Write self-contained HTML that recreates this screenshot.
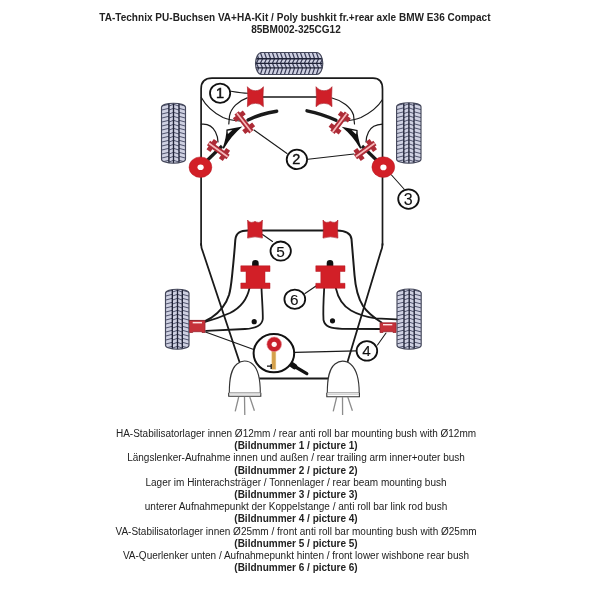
<!DOCTYPE html>
<html><head><meta charset="utf-8">
<style>
html,body{margin:0;padding:0;background:#fff;width:600px;height:600px;overflow:hidden;}
body{position:relative;font-family:"Liberation Sans",sans-serif;color:#222;}
.t{position:absolute;left:0;width:592px;will-change:transform;text-align:center;font-size:10px;line-height:12.2px;white-space:nowrap;}
.b{font-weight:bold;}
svg{position:absolute;left:0;top:0;will-change:transform;}
</style></head><body>
<div class="t b" style="top:12px"><span style="letter-spacing:0.03px;position:relative;left:-1.1px">TA-Technix PU-Buchsen VA+HA-Kit / Poly bushkit fr.+rear axle BMW E36 Compact</span><br>85BM002-325CG12</div>
<div class="t" style="top:428.3px">HA-Stabilisatorlager innen Ø12mm / rear anti roll bar mounting bush with Ø12mm<br>
<span class="b">(Bildnummer 1 / picture 1)</span><br>
Längslenker-Aufnahme innen und außen / rear trailing arm inner+outer bush<br>
<span class="b">(Bildnummer 2 / picture 2)</span><br>
Lager im Hinterachsträger / Tonnenlager / rear beam mounting bush<br>
<span class="b">(Bildnummer 3 / picture 3)</span><br>
unterer Aufnahmepunkt der Koppelstange / anti roll bar link rod bush<br>
<span class="b">(Bildnummer 4 / picture 4)</span><br>
VA-Stabilisatorlager innen Ø25mm / front anti roll bar mounting bush with Ø25mm<br>
<span class="b">(Bildnummer 5 / picture 5)</span><br>
VA-Querlenker unten / Aufnahmepunkt hinten / front lower wishbone rear bush<br>
<span class="b">(Bildnummer 6 / picture 6)</span></div>
<svg width="600" height="600" viewBox="0 0 600 600">
<defs>
<g id="ib">
<path d="M-12,-2.7 H12 V2.7 H-12 Z M-10,-6.3 H-5.2 V6.3 H-10 Z M5.2,-6.3 H10 V6.3 H5.2 Z" fill="#ad2b36"/>
<path d="M-11.6,0 H11.6" stroke="#f7b9bb" stroke-width="1.7"/>
</g>
</defs>
<clipPath id="c25552"><rect x="255.5" y="52.5" width="67.30000000000001" height="22.0" rx="6" ry="11"/></clipPath>
<rect x="255.5" y="52.5" width="67.30000000000001" height="22.0" rx="6" ry="11" fill="#cfd1e2"/>
<g clip-path="url(#c25552)">
<path d="M256.4,52.5 L258.6,58.7 M258.6,58.7 L256.4,63.3 M256.4,63.3 L258.6,67.9 M258.6,67.9 L256.4,74.5 M260.4,52.5 L262.6,58.7 M262.6,58.7 L260.4,63.3 M260.4,63.3 L262.6,67.9 M262.6,67.9 L260.4,74.5 M264.4,52.5 L266.6,58.7 M266.6,58.7 L264.4,63.3 M264.4,63.3 L266.6,67.9 M266.6,67.9 L264.4,74.5 M268.4,52.5 L270.6,58.7 M270.6,58.7 L268.4,63.3 M268.4,63.3 L270.6,67.9 M270.6,67.9 L268.4,74.5 M272.4,52.5 L274.6,58.7 M274.6,58.7 L272.4,63.3 M272.4,63.3 L274.6,67.9 M274.6,67.9 L272.4,74.5 M276.4,52.5 L278.6,58.7 M278.6,58.7 L276.4,63.3 M276.4,63.3 L278.6,67.9 M278.6,67.9 L276.4,74.5 M280.4,52.5 L282.6,58.7 M282.6,58.7 L280.4,63.3 M280.4,63.3 L282.6,67.9 M282.6,67.9 L280.4,74.5 M284.4,52.5 L286.6,58.7 M286.6,58.7 L284.4,63.3 M284.4,63.3 L286.6,67.9 M286.6,67.9 L284.4,74.5 M288.4,52.5 L290.6,58.7 M290.6,58.7 L288.4,63.3 M288.4,63.3 L290.6,67.9 M290.6,67.9 L288.4,74.5 M292.4,52.5 L294.6,58.7 M294.6,58.7 L292.4,63.3 M292.4,63.3 L294.6,67.9 M294.6,67.9 L292.4,74.5 M296.4,52.5 L298.6,58.7 M298.6,58.7 L296.4,63.3 M296.4,63.3 L298.6,67.9 M298.6,67.9 L296.4,74.5 M300.4,52.5 L302.6,58.7 M302.6,58.7 L300.4,63.3 M300.4,63.3 L302.6,67.9 M302.6,67.9 L300.4,74.5 M304.4,52.5 L306.6,58.7 M306.6,58.7 L304.4,63.3 M304.4,63.3 L306.6,67.9 M306.6,67.9 L304.4,74.5 M308.4,52.5 L310.6,58.7 M310.6,58.7 L308.4,63.3 M308.4,63.3 L310.6,67.9 M310.6,67.9 L308.4,74.5 M312.4,52.5 L314.6,58.7 M314.6,58.7 L312.4,63.3 M312.4,63.3 L314.6,67.9 M314.6,67.9 L312.4,74.5 M316.4,52.5 L318.6,58.7 M318.6,58.7 L316.4,63.3 M316.4,63.3 L318.6,67.9 M318.6,67.9 L316.4,74.5 M320.4,52.5 L322.6,58.7 M322.6,58.7 L320.4,63.3 M320.4,63.3 L322.6,67.9 M322.6,67.9 L320.4,74.5" stroke="#373a55" stroke-width="1.2" fill="none"/>
<path d="M255.5,58.7 H322.8 M255.5,63.3 H322.8 M255.5,67.9 H322.8" stroke="#1f2236" stroke-width="1.35" fill="none"/>
</g>
<rect x="255.5" y="52.5" width="67.30000000000001" height="22.0" rx="6" ry="11" fill="none" stroke="#44475a" stroke-width="1.15"/>
<clipPath id="c161103"><rect x="161.5" y="103.2" width="24.0" height="59.999999999999986" rx="12.00" ry="4"/></clipPath>
<rect x="161.5" y="103.2" width="24.0" height="59.999999999999986" rx="12.00" ry="4" fill="#cfd1e2"/>
<g clip-path="url(#c161103)">
<path d="M161.5,106.1 L168.9,104.3 M168.9,106.1 L173.5,104.3 M173.5,104.3 L179.0,106.1 M179.0,104.3 L185.5,106.1 M161.5,110.1 L168.9,108.3 M168.9,110.1 L173.5,108.3 M173.5,108.3 L179.0,110.1 M179.0,108.3 L185.5,110.1 M161.5,114.1 L168.9,112.3 M168.9,114.1 L173.5,112.3 M173.5,112.3 L179.0,114.1 M179.0,112.3 L185.5,114.1 M161.5,118.1 L168.9,116.3 M168.9,118.1 L173.5,116.3 M173.5,116.3 L179.0,118.1 M179.0,116.3 L185.5,118.1 M161.5,122.1 L168.9,120.3 M168.9,122.1 L173.5,120.3 M173.5,120.3 L179.0,122.1 M179.0,120.3 L185.5,122.1 M161.5,126.1 L168.9,124.3 M168.9,126.1 L173.5,124.3 M173.5,124.3 L179.0,126.1 M179.0,124.3 L185.5,126.1 M161.5,130.1 L168.9,128.3 M168.9,130.1 L173.5,128.3 M173.5,128.3 L179.0,130.1 M179.0,128.3 L185.5,130.1 M161.5,134.1 L168.9,132.3 M168.9,134.1 L173.5,132.3 M173.5,132.3 L179.0,134.1 M179.0,132.3 L185.5,134.1 M161.5,138.1 L168.9,136.3 M168.9,138.1 L173.5,136.3 M173.5,136.3 L179.0,138.1 M179.0,136.3 L185.5,138.1 M161.5,142.1 L168.9,140.3 M168.9,142.1 L173.5,140.3 M173.5,140.3 L179.0,142.1 M179.0,140.3 L185.5,142.1 M161.5,146.1 L168.9,144.3 M168.9,146.1 L173.5,144.3 M173.5,144.3 L179.0,146.1 M179.0,144.3 L185.5,146.1 M161.5,150.1 L168.9,148.3 M168.9,150.1 L173.5,148.3 M173.5,148.3 L179.0,150.1 M179.0,148.3 L185.5,150.1 M161.5,154.1 L168.9,152.3 M168.9,154.1 L173.5,152.3 M173.5,152.3 L179.0,154.1 M179.0,152.3 L185.5,154.1 M161.5,158.1 L168.9,156.3 M168.9,158.1 L173.5,156.3 M173.5,156.3 L179.0,158.1 M179.0,156.3 L185.5,158.1 M161.5,162.1 L168.9,160.3 M168.9,162.1 L173.5,160.3 M173.5,160.3 L179.0,162.1 M179.0,160.3 L185.5,162.1" stroke="#50546e" stroke-width="1.0" fill="none"/>
<path d="M168.9,103.2 V163.2 M173.5,103.2 V163.2 M179.0,103.2 V163.2" stroke="#1f2236" stroke-width="1.35" fill="none"/>
</g>
<rect x="161.5" y="103.2" width="24.0" height="59.999999999999986" rx="12.00" ry="4" fill="none" stroke="#44475a" stroke-width="1.15"/>
<clipPath id="c396102"><rect x="396.6" y="102.7" width="24.399999999999977" height="60.499999999999986" rx="12.20" ry="4"/></clipPath>
<rect x="396.6" y="102.7" width="24.399999999999977" height="60.499999999999986" rx="12.20" ry="4" fill="#cfd1e2"/>
<g clip-path="url(#c396102)">
<path d="M396.6,105.6 L403.8,103.8 M403.8,105.6 L408.9,103.8 M408.9,103.8 L414.0,105.6 M414.0,103.8 L421.0,105.6 M396.6,109.6 L403.8,107.8 M403.8,109.6 L408.9,107.8 M408.9,107.8 L414.0,109.6 M414.0,107.8 L421.0,109.6 M396.6,113.6 L403.8,111.8 M403.8,113.6 L408.9,111.8 M408.9,111.8 L414.0,113.6 M414.0,111.8 L421.0,113.6 M396.6,117.6 L403.8,115.8 M403.8,117.6 L408.9,115.8 M408.9,115.8 L414.0,117.6 M414.0,115.8 L421.0,117.6 M396.6,121.6 L403.8,119.8 M403.8,121.6 L408.9,119.8 M408.9,119.8 L414.0,121.6 M414.0,119.8 L421.0,121.6 M396.6,125.6 L403.8,123.8 M403.8,125.6 L408.9,123.8 M408.9,123.8 L414.0,125.6 M414.0,123.8 L421.0,125.6 M396.6,129.6 L403.8,127.8 M403.8,129.6 L408.9,127.8 M408.9,127.8 L414.0,129.6 M414.0,127.8 L421.0,129.6 M396.6,133.6 L403.8,131.8 M403.8,133.6 L408.9,131.8 M408.9,131.8 L414.0,133.6 M414.0,131.8 L421.0,133.6 M396.6,137.6 L403.8,135.8 M403.8,137.6 L408.9,135.8 M408.9,135.8 L414.0,137.6 M414.0,135.8 L421.0,137.6 M396.6,141.6 L403.8,139.8 M403.8,141.6 L408.9,139.8 M408.9,139.8 L414.0,141.6 M414.0,139.8 L421.0,141.6 M396.6,145.6 L403.8,143.8 M403.8,145.6 L408.9,143.8 M408.9,143.8 L414.0,145.6 M414.0,143.8 L421.0,145.6 M396.6,149.6 L403.8,147.8 M403.8,149.6 L408.9,147.8 M408.9,147.8 L414.0,149.6 M414.0,147.8 L421.0,149.6 M396.6,153.6 L403.8,151.8 M403.8,153.6 L408.9,151.8 M408.9,151.8 L414.0,153.6 M414.0,151.8 L421.0,153.6 M396.6,157.6 L403.8,155.8 M403.8,157.6 L408.9,155.8 M408.9,155.8 L414.0,157.6 M414.0,155.8 L421.0,157.6 M396.6,161.6 L403.8,159.8 M403.8,161.6 L408.9,159.8 M408.9,159.8 L414.0,161.6 M414.0,159.8 L421.0,161.6" stroke="#50546e" stroke-width="1.0" fill="none"/>
<path d="M403.8,102.7 V163.2 M408.9,102.7 V163.2 M414.0,102.7 V163.2" stroke="#1f2236" stroke-width="1.35" fill="none"/>
</g>
<rect x="396.6" y="102.7" width="24.399999999999977" height="60.499999999999986" rx="12.20" ry="4" fill="none" stroke="#44475a" stroke-width="1.15"/>
<clipPath id="c165289"><rect x="165.5" y="289.2" width="23.5" height="60.0" rx="11.75" ry="4"/></clipPath>
<rect x="165.5" y="289.2" width="23.5" height="60.0" rx="11.75" ry="4" fill="#cfd1e2"/>
<g clip-path="url(#c165289)">
<path d="M165.5,292.1 L172.3,290.3 M172.3,292.1 L177.5,290.3 M177.5,290.3 L182.3,292.1 M182.3,290.3 L189.0,292.1 M165.5,296.1 L172.3,294.3 M172.3,296.1 L177.5,294.3 M177.5,294.3 L182.3,296.1 M182.3,294.3 L189.0,296.1 M165.5,300.1 L172.3,298.3 M172.3,300.1 L177.5,298.3 M177.5,298.3 L182.3,300.1 M182.3,298.3 L189.0,300.1 M165.5,304.1 L172.3,302.3 M172.3,304.1 L177.5,302.3 M177.5,302.3 L182.3,304.1 M182.3,302.3 L189.0,304.1 M165.5,308.1 L172.3,306.3 M172.3,308.1 L177.5,306.3 M177.5,306.3 L182.3,308.1 M182.3,306.3 L189.0,308.1 M165.5,312.1 L172.3,310.3 M172.3,312.1 L177.5,310.3 M177.5,310.3 L182.3,312.1 M182.3,310.3 L189.0,312.1 M165.5,316.1 L172.3,314.3 M172.3,316.1 L177.5,314.3 M177.5,314.3 L182.3,316.1 M182.3,314.3 L189.0,316.1 M165.5,320.1 L172.3,318.3 M172.3,320.1 L177.5,318.3 M177.5,318.3 L182.3,320.1 M182.3,318.3 L189.0,320.1 M165.5,324.1 L172.3,322.3 M172.3,324.1 L177.5,322.3 M177.5,322.3 L182.3,324.1 M182.3,322.3 L189.0,324.1 M165.5,328.1 L172.3,326.3 M172.3,328.1 L177.5,326.3 M177.5,326.3 L182.3,328.1 M182.3,326.3 L189.0,328.1 M165.5,332.1 L172.3,330.3 M172.3,332.1 L177.5,330.3 M177.5,330.3 L182.3,332.1 M182.3,330.3 L189.0,332.1 M165.5,336.1 L172.3,334.3 M172.3,336.1 L177.5,334.3 M177.5,334.3 L182.3,336.1 M182.3,334.3 L189.0,336.1 M165.5,340.1 L172.3,338.3 M172.3,340.1 L177.5,338.3 M177.5,338.3 L182.3,340.1 M182.3,338.3 L189.0,340.1 M165.5,344.1 L172.3,342.3 M172.3,344.1 L177.5,342.3 M177.5,342.3 L182.3,344.1 M182.3,342.3 L189.0,344.1 M165.5,348.1 L172.3,346.3 M172.3,348.1 L177.5,346.3 M177.5,346.3 L182.3,348.1 M182.3,346.3 L189.0,348.1" stroke="#50546e" stroke-width="1.0" fill="none"/>
<path d="M172.3,289.2 V349.2 M177.5,289.2 V349.2 M182.3,289.2 V349.2" stroke="#1f2236" stroke-width="1.35" fill="none"/>
</g>
<rect x="165.5" y="289.2" width="23.5" height="60.0" rx="11.75" ry="4" fill="none" stroke="#44475a" stroke-width="1.15"/>
<clipPath id="c397289"><rect x="397.0" y="289.0" width="24.19999999999999" height="60.19999999999999" rx="12.10" ry="4"/></clipPath>
<rect x="397.0" y="289.0" width="24.19999999999999" height="60.19999999999999" rx="12.10" ry="4" fill="#cfd1e2"/>
<g clip-path="url(#c397289)">
<path d="M397.0,291.9 L404.0,290.1 M404.0,291.9 L409.2,290.1 M409.2,290.1 L414.2,291.9 M414.2,290.1 L421.2,291.9 M397.0,295.9 L404.0,294.1 M404.0,295.9 L409.2,294.1 M409.2,294.1 L414.2,295.9 M414.2,294.1 L421.2,295.9 M397.0,299.9 L404.0,298.1 M404.0,299.9 L409.2,298.1 M409.2,298.1 L414.2,299.9 M414.2,298.1 L421.2,299.9 M397.0,303.9 L404.0,302.1 M404.0,303.9 L409.2,302.1 M409.2,302.1 L414.2,303.9 M414.2,302.1 L421.2,303.9 M397.0,307.9 L404.0,306.1 M404.0,307.9 L409.2,306.1 M409.2,306.1 L414.2,307.9 M414.2,306.1 L421.2,307.9 M397.0,311.9 L404.0,310.1 M404.0,311.9 L409.2,310.1 M409.2,310.1 L414.2,311.9 M414.2,310.1 L421.2,311.9 M397.0,315.9 L404.0,314.1 M404.0,315.9 L409.2,314.1 M409.2,314.1 L414.2,315.9 M414.2,314.1 L421.2,315.9 M397.0,319.9 L404.0,318.1 M404.0,319.9 L409.2,318.1 M409.2,318.1 L414.2,319.9 M414.2,318.1 L421.2,319.9 M397.0,323.9 L404.0,322.1 M404.0,323.9 L409.2,322.1 M409.2,322.1 L414.2,323.9 M414.2,322.1 L421.2,323.9 M397.0,327.9 L404.0,326.1 M404.0,327.9 L409.2,326.1 M409.2,326.1 L414.2,327.9 M414.2,326.1 L421.2,327.9 M397.0,331.9 L404.0,330.1 M404.0,331.9 L409.2,330.1 M409.2,330.1 L414.2,331.9 M414.2,330.1 L421.2,331.9 M397.0,335.9 L404.0,334.1 M404.0,335.9 L409.2,334.1 M409.2,334.1 L414.2,335.9 M414.2,334.1 L421.2,335.9 M397.0,339.9 L404.0,338.1 M404.0,339.9 L409.2,338.1 M409.2,338.1 L414.2,339.9 M414.2,338.1 L421.2,339.9 M397.0,343.9 L404.0,342.1 M404.0,343.9 L409.2,342.1 M409.2,342.1 L414.2,343.9 M414.2,342.1 L421.2,343.9 M397.0,347.9 L404.0,346.1 M404.0,347.9 L409.2,346.1 M409.2,346.1 L414.2,347.9 M414.2,346.1 L421.2,347.9" stroke="#50546e" stroke-width="1.0" fill="none"/>
<path d="M404.0,289.0 V349.2 M409.2,289.0 V349.2 M414.2,289.0 V349.2" stroke="#1f2236" stroke-width="1.35" fill="none"/>
</g>
<rect x="397.0" y="289.0" width="24.19999999999999" height="60.19999999999999" rx="12.10" ry="4" fill="none" stroke="#44475a" stroke-width="1.15"/>
<!-- frame -->
<g fill="none" stroke="#1a1a1a" stroke-linecap="round" stroke-linejoin="round">
<path stroke-width="1.7" d="M201.1,245 V89 Q201.1,78.2 212,78.2 H373 Q382.5,78.2 382.5,89 V245"/>
<path stroke-width="1.8" d="M201.1,244 Q201.2,248 202.6,251 L239.5,362"/>
<path stroke-width="1.8" d="M382.5,244 Q382.4,248 381,251 L347.5,362"/>
<path stroke-width="1.9" d="M259,378.5 H328"/>
<!-- top anti roll bar -->
<path stroke-width="1.6" d="M262,97 H318"/>
<path stroke-width="1.1" d="M231,91.3 C238,92.5 243,93.3 248,93.3"/>
<!-- thin curves upper left -->
<path stroke-width="1.2" d="M201.3,97.5 C206,106 214,113 223,117.5 C228,119.6 232,120.4 240,121"/>
<path stroke-width="1.2" d="M247.2,97.9 C238,101 231,108 229.5,116 L228.8,124"/>
<path stroke-width="1.2" d="M201.3,124.2 C208,123.5 213,127 215.5,132 C217,135 218,138 218,142"/>
<!-- upper right -->
<path stroke-width="1.2" d="M382.5,99.5 C378,107 370,113 361,117.5 C356,119.6 352,120.4 344,121"/>
<path stroke-width="1.2" d="M332,98 C342,100.5 351,107 353.5,115 L354.5,124"/>
<path stroke-width="1.2" d="M382.5,124.2 C376,124.5 371,127 368.5,132 C367,135 366,138 366,142"/>
<!-- arms upper (anti roll bar ends) -->
<path stroke-width="3.4" d="M248,120 C256,116 266,113 276.7,111.3"/>
<path stroke-width="3.4" d="M336,120.3 C328,116.5 318,113 307,110.8"/>
<!-- trailing arms -->
<path stroke-width="3.2" stroke-linecap="butt" d="M203,164.5 L222,146"/>
<path stroke-width="3.2" stroke-linecap="butt" d="M381,164.5 L362,146"/>
<!-- leader lines 2,3 -->
<path stroke-width="1.1" d="M254,130 L287,153.5"/>
<path stroke-width="1.1" d="M308,159.2 L354,154"/>
<path stroke-width="1.1" d="M391.5,175 L404,189"/>
<!-- front anti roll bar -->
<path stroke-width="2" d="M262,230.4 H324"/>
<path stroke-width="2" d="M248,230.6 C241,230.8 236,232 235.3,240 C234.6,250 233.5,262 232.4,272.5 C231.5,281 231,288 229,295 C226.5,303 220,312 211,318 L205,321.2 L190,321"/>
<path stroke-width="2" d="M337,230.6 C344,230.8 350.5,232 351.5,239 C352.5,250 353.5,262 354.5,275 C355.5,288 358,298 363,306 C367,312 373,317 381.5,322.5"/>
<path stroke-width="1.1" d="M262.5,234.5 L272.5,241.5"/>
<!-- lower wishbone lines -->
<path stroke-width="1.8" d="M249.5,288 C247,300 240,308 230,313 C221,317 212,320 205,322"/>
<path stroke-width="1.8" d="M261.5,288 C262,300 263,312 262.8,319 C262,326 256,328.5 245,329 L206,330.8"/>
<path stroke-width="1.8" d="M335.8,288 C338,298 343,306 351,310.5 C358,314.5 366,317 376,318.3 L396.5,319.3"/>
<path stroke-width="1.8" d="M324.2,288 C323.5,300 323,312 323.5,320 C325,327 331,328.5 342,328.8 L380,329"/>
<path stroke-width="1.1" d="M305,293.5 L316,286"/>
<!-- lower leader lines -->
<path stroke-width="1.2" d="M205.5,332 L253,349.2"/>
<path stroke-width="1.2" d="M295,352.4 L356.5,350.8"/>
<path stroke-width="1.1" d="M377.5,345 L386,333"/>
</g>
<!-- wedges -->
<g fill="#111">
<path d="M242.4,126.5 L226.4,129.6 Q226.6,137 222.5,148.5 L224,148.5 Q231,136 242.4,126.5 Z"/>
<path d="M341.6,126.8 L357.6,129.9 Q357.4,137 361.5,148.5 L360,148.5 Q353,136 341.6,126.8 Z"/>
</g>
<g fill="#fff">
<path d="M232.3,130 L227.6,130.8 L227.9,134 Z"/>
<path d="M351.7,130.3 L356.4,131.1 L356.1,134.3 Z"/>
</g>
<!-- dots -->
<g fill="#111">
<circle cx="254.2" cy="321.7" r="2.6"/>
<circle cx="332.5" cy="320.8" r="2.6"/>
<path d="M252.1,266.2 V263.4 A3.3,3.3 0 0 1 258.7,263.4 V266.2 Z"/>
<path d="M326.7,266.2 V263.4 A3.3,3.3 0 0 1 333.3,263.4 V266.2 Z"/>
</g>
<!-- red bushings 1 -->
<g fill="#cf1f28" stroke="#a81a24" stroke-width="0.6">
<path d="M247.4,86.7 A10,10 0 0 0 263.4,86.7 Q262.6,97 263.4,106.7 A11,11 0 0 0 247.4,106.7 Q248.2,97 247.4,86.7 Z"/>
<path d="M316,86.7 A10,10 0 0 0 332,86.7 Q331.2,97 332,106.7 A11,11 0 0 0 316,106.7 Q316.8,97 316,86.7 Z"/>
<!-- bushings 5 -->
<path d="M247.6,220 Q248.9,222.5 251.3,222.4 Q253.5,222.3 255.0,221.4 Q256.5,222.3 258.7,222.4 Q261.1,222.5 262.4,220 Q261.7,229 262.4,238.1 Q255.0,235.6 247.6,238.1 Q248.3,229 247.6,220 Z"/>
<path d="M323.0,220 Q324.3,222.5 326.7,222.4 Q328.9,222.3 330.4,221.4 Q331.9,222.3 334.2,222.4 Q336.6,222.5 337.9,220 Q337.2,229 337.9,238.1 Q330.4,235.6 323.0,238.1 Q323.7,229 323.0,220 Z"/>
</g>
<g fill="#d21f27" stroke="#b51b24" stroke-width="0.5">
<!-- bushings 6 -->
<path d="M240.8,265.8 H270 V271.5 H265 V283 H270 V288.5 H240.8 V283 H246 V271.5 H240.8 Z"/>
<path d="M315.8,265.8 H345 V271.5 H340 V283.3 H345 V288.3 H315.8 V283.3 H320.8 V271.5 H315.8 Z"/>
<!-- hubs -->
<ellipse cx="200.45" cy="167.2" rx="11.4" ry="10.3"/>
<ellipse cx="383.3" cy="167.1" rx="11.4" ry="10.3"/>
</g>
<g fill="#fff"><ellipse cx="200.6" cy="167.3" rx="3.1" ry="2.8"/><ellipse cx="383.4" cy="167.4" rx="3.1" ry="2.8"/></g>
<!-- axle bushings 4 -->
<g fill="#c63139" stroke="#9a2a32" stroke-width="0.8">
<path d="M189.5,320.4 H205 V332.5 H202 V331.7 H192.7 V332.5 H189.5 Z"/>
<path d="M380,322.8 H396 V332.5 H393 V331.7 H383 V332.5 H380 Z"/>
</g>
<g fill="#fbe3e3">
<rect x="192.7" y="321.9" width="9.3" height="1.5"/>
<rect x="383" y="324" width="9.3" height="1.4"/>
</g>
<!-- I-beam bushings 2 -->
<use href="#ib" transform="translate(244,122.3) rotate(52)"/>
<use href="#ib" transform="translate(218.3,150) rotate(35.5)"/>
<use href="#ib" transform="translate(339.7,122.7) rotate(-52.7)"/>
<use href="#ib" transform="translate(365.2,150) rotate(-35.6)"/>
<!-- domes -->
<g fill="#fff" stroke="#333" stroke-width="1.1">
<path d="M229.3,393 C229.3,378 231,369 237,364 C239.5,362 242,361 244.5,361 C247.5,361 250.5,362 253,364.5 C258.5,369.5 260.3,378 260.3,393 Z"/>
<path d="M327.3,393 C327.3,378 329,369 335,364 C337.5,362 340,361.1 342.5,361.1 C345.5,361.1 348.5,362 351,364.5 C356.5,369.5 359.2,378 359.2,393 Z"/>
<path d="M228.7,392.8 V396.3 H260.8 V392.8 M326.8,392.8 V396.7 H359.4 V392.8"/>
</g>
<path d="M229.2,393.9 H260.3 M327.2,394.1 H359" stroke="#b0b0b0" stroke-width="0.9"/>
<g stroke="#8c8c8c" stroke-width="1.3" fill="none">
<path d="M238.7,397 L235.2,411.3 M244.5,397 L244.8,415 M249.8,397 L254.4,410.7"/>
<path d="M336.7,397 L333.2,411.3 M342.5,397 L342.6,415 M347.8,397 L352.4,410.7"/>
</g>
<!-- magnifier -->
<path d="M289.5,363 L294.5,366.5" stroke="#111" stroke-width="5.5" stroke-linecap="round"/>
<path d="M293,365.5 L306.8,373.6" stroke="#111" stroke-width="3.3" stroke-linecap="round"/>
<ellipse cx="273.9" cy="353.2" rx="20.3" ry="19.1" fill="#fff" stroke="#111" stroke-width="2"/>
<rect x="271.8" y="350.5" width="4.1" height="18.8" fill="#d4a14c" stroke="#f2d8a0" stroke-width="0.5"/>
<path d="M267,366.2 H271.5 M271.2,364 V369" stroke="#111" stroke-width="1.3"/>
<circle cx="274.2" cy="344.3" r="7.3" fill="#c91f2b" stroke="#e88a90" stroke-width="0.6"/>
<circle cx="274.2" cy="344.3" r="2.6" fill="#fff4f4"/>
<!-- number circles -->
<g fill="#fff" stroke="#111" stroke-width="1.8">
<ellipse cx="220.1" cy="93.2" rx="10.1" ry="9.6"/>
<ellipse cx="296.9" cy="159.4" rx="10.2" ry="9.7"/>
<ellipse cx="408.5" cy="199.05" rx="10.3" ry="9.75"/>
<ellipse cx="366.9" cy="350.9" rx="10.3" ry="9.75"/>
<ellipse cx="280.7" cy="251.1" rx="10.2" ry="9.6"/>
<ellipse cx="294.8" cy="299.2" rx="10.4" ry="9.6"/>
</g>
<g font-family="Liberation Sans" font-size="15" fill="#111" stroke="#111" stroke-width="0.12" text-anchor="middle">
<text x="220" y="98.1" font-size="14.5" stroke-width="0.5">1</text>
<text x="296.4" y="164.1" font-size="14.5" stroke-width="0.4">2</text>
<text x="408.1" y="204.8" font-size="16">3</text>
<text x="366.4" y="355.6" font-size="15.3">4</text>
<text x="280.6" y="257.1" font-size="15.4">5</text>
<text x="294.2" y="304.8" font-size="15.3">6</text>
</g>
</svg>
</body></html>
